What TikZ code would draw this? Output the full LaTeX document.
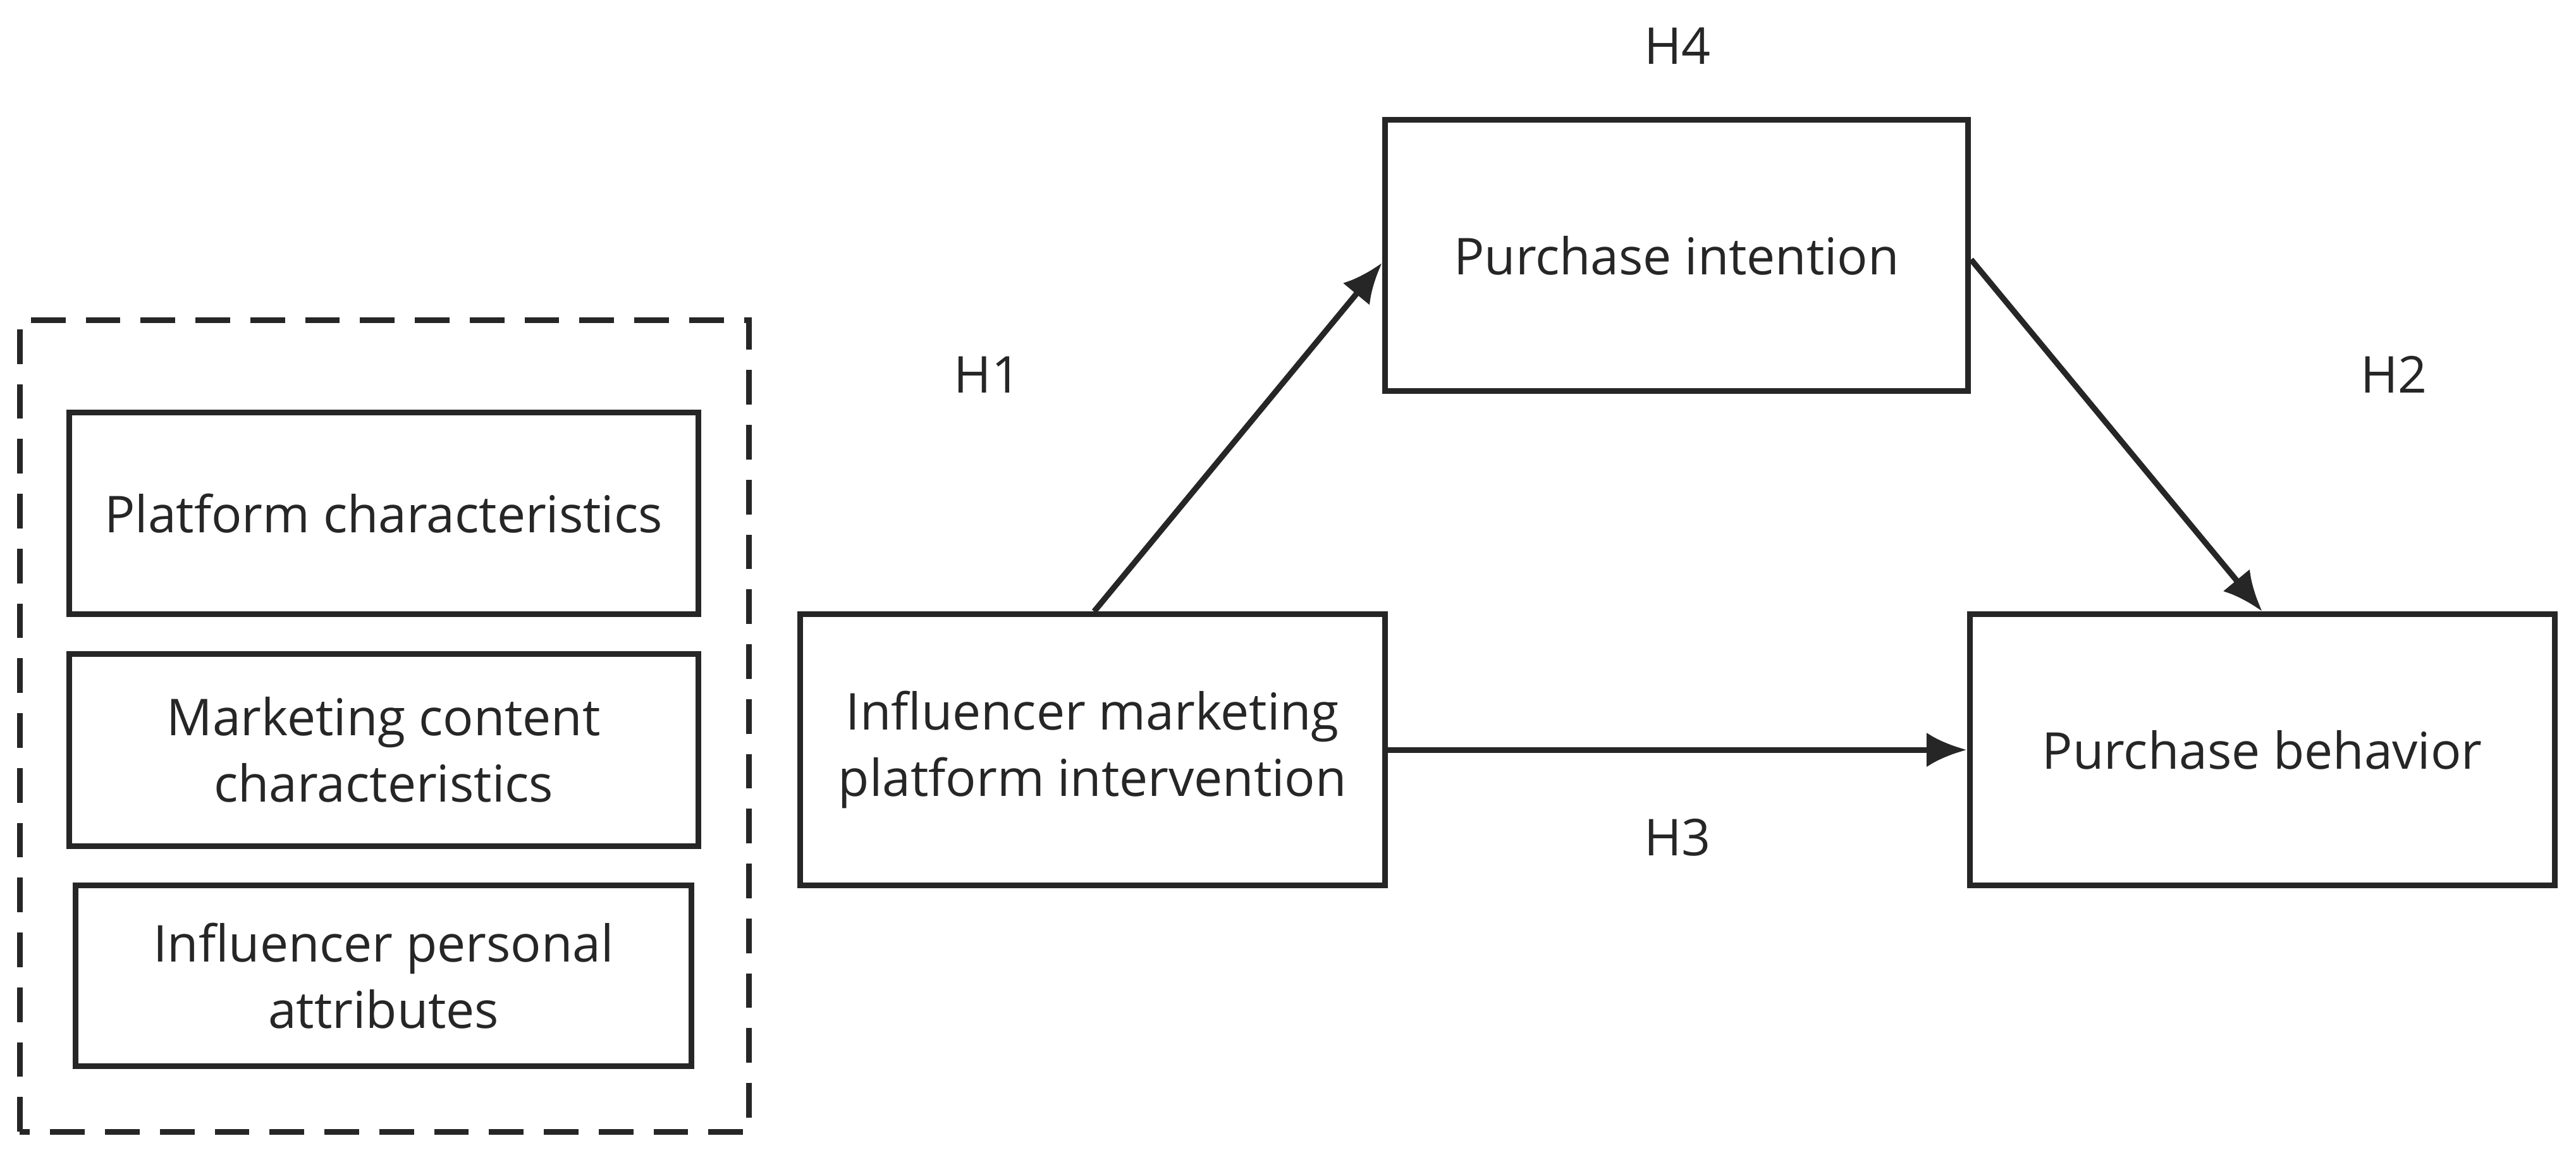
\documentclass[tikz,border=0pt]{standalone}
\usepackage{fontspec}
\setmainfont{Open Sans}
\usetikzlibrary{positioning,arrows.meta}
\tikzset{
  box/.style={draw=black!85,line width=1pt,align=center,inner sep=0pt,font=\fontsize{8.8}{11.5}\selectfont,text=black!85},
  hlab/.style={font=\fontsize{8.8}{11.5}\selectfont,text=black!85},
  link/.style={draw=black!85,line width=1pt,-{Latex[length=7pt,width=6pt]}}
}
\begin{document}
\begin{tikzpicture}
    \useasboundingbox (0,0) rectangle (15.68,7.03);
    % Facteurs
    \draw[black!85,line width=1pt,dash pattern=on 6pt off 3.5pt] (0.12,0.14) rectangle (4.56,5.08);
    \node[box,minimum width=3.83cm,minimum height=1.23cm] (platform) at (2.335,3.905) {Platform characteristics};
    \node[box,minimum width=3.83cm,minimum height=1.17cm] (content) at (2.335,2.465) {Marketing content\\characteristics};
    \node[box,minimum width=3.75cm,minimum height=1.10cm] (personal) at (2.335,1.09) {Influencer personal\\attributes};
    
    % Modèle
    \node[box,minimum width=3.56cm,minimum height=1.65cm] (interv) at (6.65,2.465) {Influencer marketing\\platform intervention};
    \node[box,minimum width=3.55cm,minimum height=1.65cm] (intent) at (10.205,5.475) {Purchase intention};
    \node[box,minimum width=3.56cm,minimum height=1.65cm] (behav) at (13.77,2.465) {Purchase behavior};
    
    % Liens
    \draw[link] (interv.north) ++(0.01,0) -- (intent.west |- 0,5.43);
    \draw[link] (intent.east |- 0,5.45) -- (behav.north);
    \draw[link] (interv.east) -- (behav.west);
    
    % Hypothèses
    \node[hlab] (h4) at (10.21,6.75) {H4};
    \node[hlab] (h1) at (6.01,4.75) {H1};
    \node[hlab] (h2) at (14.57,4.75) {H2};
    \node[hlab] (h3) at (10.21,1.93) {H3};
\end{tikzpicture}
\end{document}
